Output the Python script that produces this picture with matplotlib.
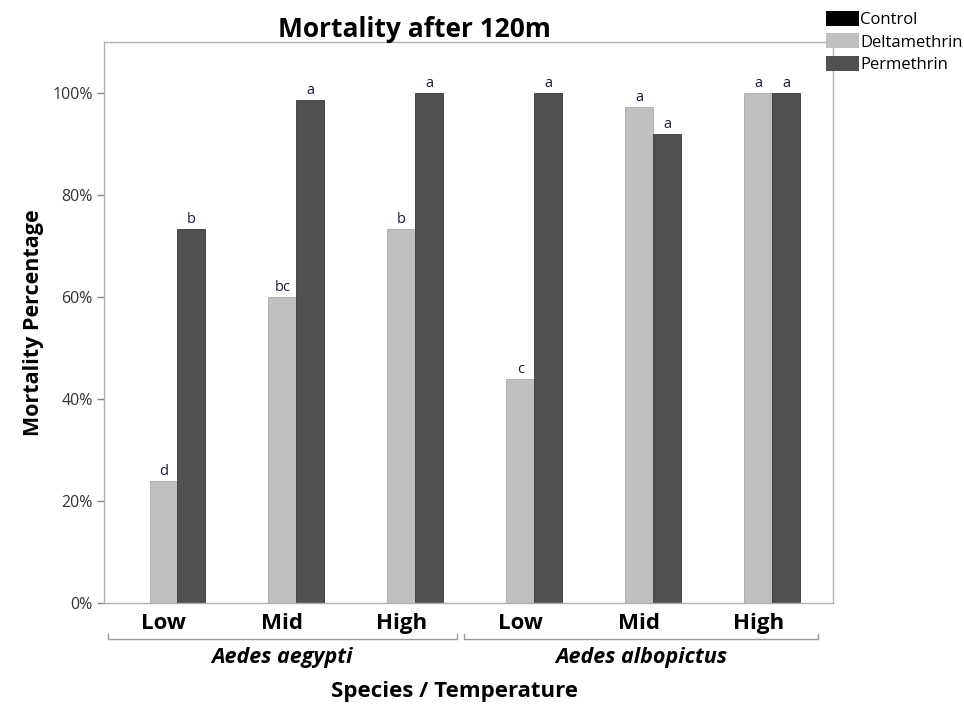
import matplotlib
matplotlib.use("Agg")
import matplotlib.pyplot as plt
import matplotlib.transforms as mtransforms
from matplotlib.patches import Patch
import numpy as np

plt.rcParams['font.family'] = ['Open Sans', 'DejaVu Sans']

# data
temps = ["Low", "Mid", "High", "Low", "Mid", "High"]
species = ["Aedes aegypti", "Aedes albopictus"]
control = [0, 0, 0, 0, 0, 0]
deltamethrin = [24.0, 60.0, 73.3, 44.0, 97.3, 100.0]
permethrin = [73.3, 98.7, 100.0, 100.0, 92.0, 100.0]
delta_letters = ["d", "bc", "b", "c", "a", "a"]
perm_letters = ["b", "a", "a", "a", "a", "a"]

c_ctrl, c_delta, c_perm = "#000000", "#c0c0c0", "#505050"

fig = plt.figure(figsize=(9.64, 7.08), dpi=100)
ax = fig.add_axes([0.1079, 0.1483, 0.7562, 0.7924])

x = np.arange(len(temps))
w = 0.235
ax.bar(x - w, control, w, color=c_ctrl, edgecolor="#999999", linewidth=0.6)
ax.bar(x, deltamethrin, w, color=c_delta, edgecolor="#a8a8a8", linewidth=0.6)
ax.bar(x + w, permethrin, w, color=c_perm, edgecolor="#3a3a3a", linewidth=0.6)

# significance letters above bars
for i in range(len(temps)):
    ax.text(x[i], deltamethrin[i] + 0.4, delta_letters[i], ha="center", va="bottom",
            fontsize=10.5, color="#1a1a3a")
    ax.text(x[i] + w, permethrin[i] + 0.4, perm_letters[i], ha="center", va="bottom",
            fontsize=10.5, color="#1a1a3a")

ax.set_xlim(-0.5, 5.63)
ax.set_ylim(0, 110)
ax.set_yticks([0, 20, 40, 60, 80, 100])
ax.set_yticklabels([f"{v}%" for v in [0, 20, 40, 60, 80, 100]], fontsize=11.5, color="#333333")
ax.set_xticks(x)
ax.set_xticklabels(temps, fontsize=16, fontweight="bold")
ax.tick_params(axis="x", length=0, pad=7)
ax.tick_params(axis="y", length=5, color="#888888", width=1, pad=3)
for s in ax.spines.values():
    s.set_color("#b0b0b0")
    s.set_linewidth(1)

ax.set_ylabel("Mortality Percentage", fontsize=15.5, fontweight="bold", labelpad=6)
fig.text(0.4295, 0.958, "Mortality after 120m", ha="center", va="center",
         fontsize=19, fontweight="bold")

# species brackets below tick labels
trans = mtransforms.blended_transform_factory(ax.transData, ax.transAxes)
yb = -0.064
for (x0, x1), name in zip([(-0.47, 2.47), (2.53, 5.50)], species):
    ax.plot([x0, x0, x1, x1], [yb + 0.008, yb, yb, yb + 0.008], color="#999999",
            lw=1, transform=trans, clip_on=False)
    ax.text((x0 + x1) / 2, -0.098, name, transform=trans, ha="center", va="center",
            fontsize=15.5, fontweight="bold", style="italic")

fig.text(0.471, 0.0226, "Species / Temperature", ha="center", va="center",
         fontsize=16, fontweight="bold")

handles = [Patch(facecolor=c_ctrl), Patch(facecolor=c_delta), Patch(facecolor=c_perm)]
fig.legend(handles, ["Control", "Deltamethrin", "Permethrin"], loc="upper left",
           bbox_to_anchor=(0.857, 0.984), frameon=False, fontsize=12,
           handlelength=2.0, handleheight=1.0, handletextpad=0.05, labelspacing=0.3,
           borderpad=0, borderaxespad=0)

fig.savefig("out.png", dpi=100)
